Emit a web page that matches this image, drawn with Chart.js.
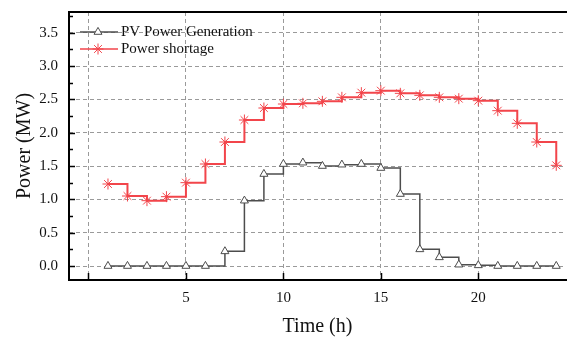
<!DOCTYPE html>
<html>
<head>
<meta charset="utf-8">
<script src="https://cdn.jsdelivr.net/npm/chart.js@4.4.1/dist/chart.umd.min.js"></script>
<style>
html,body{margin:0;padding:0;background:#fff;overflow:hidden;}
#wrap{width:567px;height:339px;position:relative;overflow:hidden;}
#c{position:absolute;left:0;top:-8px;}
</style>
</head>
<body>
<div id="wrap"><canvas id="c" width="575" height="347"></canvas></div>
<script>
const hours = [1,2,3,4,5,6,7,8,9,10,11,12,13,14,15,16,17,18,19,20,21,22,23,24];
const pvGeneration = [0,0,0,0,0,0,0.22,0.98,1.38,1.53,1.55,1.50,1.52,1.53,1.47,1.08,0.25,0.13,0.02,0.01,0,0,0,0];
const powerShortage = [1.23,1.05,0.98,1.04,1.25,1.53,1.86,2.19,2.37,2.43,2.44,2.47,2.53,2.60,2.63,2.59,2.56,2.53,2.51,2.48,2.33,2.14,1.86,1.51];
const xTicks = [0,5,10,15,20];
const yTicks = [0,0.5,1.0,1.5,2.0,2.5,3.0,3.5];
const seriesNames = ['PV Power Generation','Power shortage'];

const X_MIN = -1, X_MAX = 24.5, Y_MIN = -0.21, Y_MAX = 3.81;
const SHIFT = 8;
const GRAY = '#4d4d4d';
const RED = '#f2454b';
const GRID = '#9a9a9a';
const FONT = '"Liberation Serif","Times New Roman",serif';

const toPts = (ys) => hours.map((h,i)=>({x:h,y:ys[i]}));

const framePlugin = {
  id:'frame',
  afterDraw(chart){
    const ctx = chart.ctx, a = chart.chartArea;
    const xs = chart.scales.x, ys = chart.scales.y;
    ctx.save();
    ctx.strokeStyle = '#000';
    ctx.lineWidth = 1.5;
    xTicks.forEach(v=>{
      const px = Math.round(xs.getPixelForValue(v))+0.5;
      ctx.beginPath(); ctx.moveTo(px,a.bottom); ctx.lineTo(px,a.bottom-7); ctx.stroke();
    });
    for(let v=0; v<=3.75+1e-9; v+=0.25){
      const py = Math.round(ys.getPixelForValue(v))+0.5;
      const major = Math.abs(v*2-Math.round(v*2))<1e-6;
      ctx.beginPath(); ctx.moveTo(a.left,py); ctx.lineTo(a.left+(major?6:4),py); ctx.stroke();
    }
    ctx.lineWidth = 2;
    ctx.beginPath();
    ctx.moveTo(a.right+2, a.top);
    ctx.lineTo(a.left, a.top);
    ctx.lineTo(a.left, a.bottom);
    ctx.lineTo(a.right+2, a.bottom);
    ctx.stroke();
    const items = [
      {name:seriesNames[0], color:GRAY, style:'triangle', y:32+SHIFT, r:4.6, lw:1.5},
      {name:seriesNames[1], color:RED, style:'star', y:49+SHIFT, r:5.5, lw:1.5}
    ];
    items.forEach(it=>{
      ctx.strokeStyle = it.color;
      ctx.lineWidth = it.lw;
      ctx.beginPath(); ctx.moveTo(80,it.y); ctx.lineTo(118,it.y); ctx.stroke();
      ctx.lineWidth = 1;
      ctx.fillStyle = '#fff';
      Chart.helpers.drawPoint(ctx, {pointStyle:it.style, radius:it.r, borderWidth:1, rotation:0}, 98, it.y);
      ctx.fillStyle = '#111';
      ctx.font = '15px '+FONT;
      ctx.textBaseline = 'middle';
      ctx.textAlign = 'left';
      ctx.fillText(it.name, 121, it.y+0.5);
    });
    ctx.restore();
  }
};

new Chart(document.getElementById('c'), {
  type:'line',
  data:{
    datasets:[
      {
        label:seriesNames[1],
        data:toPts(powerShortage),
        borderColor:RED,
        backgroundColor:RED,
        borderWidth:2,
        stepped:'before',
        pointStyle:'star',
        pointRadius:5.5,
        pointBorderWidth:1,
        pointBorderColor:RED,
        fill:false
      },
      {
        label:seriesNames[0],
        data:toPts(pvGeneration),
        borderColor:GRAY,
        backgroundColor:'#fff',
        borderWidth:1.5,
        stepped:'before',
        pointStyle:'triangle',
        pointRadius:4.6,
        pointBorderWidth:1,
        pointBorderColor:GRAY,
        pointBackgroundColor:'#fff',
        fill:false
      }
    ]
  },
  options:{
    responsive:false,
    animation:false,
    events:[],
    layout:{padding:{top:11,right:0,left:0,bottom:0}},
    plugins:{legend:{display:false},tooltip:{enabled:false}},
    scales:{
      x:{
        type:'linear',
        min:X_MIN, max:X_MAX,
        afterBuildTicks(s){ s.ticks = xTicks.concat([X_MAX]).map(v=>({value:v})); },
        afterFit(s){ s.height = 59; },
        border:{display:false, dash:[4,3]},
        grid:{color:(c)=> (c.tick && c.tick.value>24) ? 'rgba(0,0,0,0)' : GRID, lineWidth:1, drawTicks:false},
        ticks:{
          padding:9,
          color:'#111',
          font:{family:FONT,size:15},
          callback:(v)=> (xTicks.includes(v) && v!==0) ? String(v) : ''
        },
        title:{display:true,text:'Time (h)',color:'#111',font:{family:FONT,size:20},padding:{top:0,bottom:0}}
      },
      y:{
        type:'linear',
        min:Y_MIN, max:Y_MAX,
        afterBuildTicks(s){ s.ticks = yTicks.concat([Y_MAX]).map(v=>({value:v})); },
        afterFit(s){ s.width = 69; },
        border:{display:false, dash:[4,3]},
        grid:{color:(c)=> (c.tick && c.tick.value>3.6) ? 'rgba(0,0,0,0)' : GRID, lineWidth:1, drawTicks:false},
        ticks:{
          padding:11,
          color:'#111',
          font:{family:FONT,size:15},
          callback:(v)=> yTicks.includes(v) ? Number(v).toFixed(1) : ''
        },
        title:{display:true,text:'Power (MW)',color:'#111',font:{family:FONT,size:20},padding:{top:13,bottom:0}}
      }
    }
  },
  plugins:[framePlugin]
});
</script>
</body>
</html>
